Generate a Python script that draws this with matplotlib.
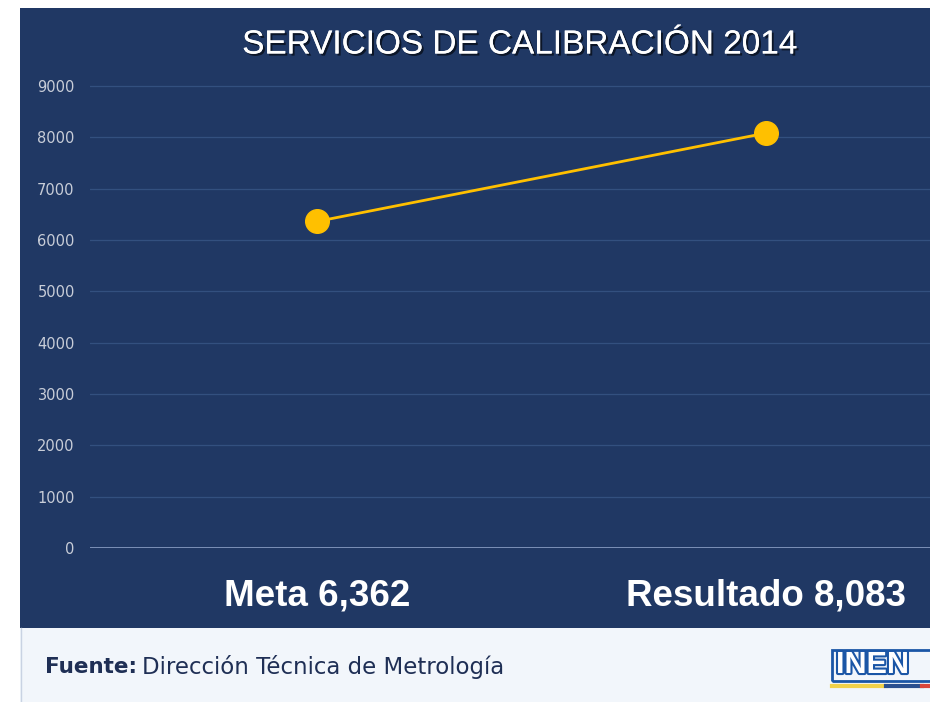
import matplotlib
matplotlib.use('Agg')
import matplotlib.pyplot as plt
import matplotlib.patheffects as pe
from matplotlib.patches import Rectangle
from matplotlib.lines import Line2D

# Datos
categorias = ['Meta 6,362', 'Resultado 8,083']
valores = [6362, 8083]
yticks = [0, 1000, 2000, 3000, 4000, 5000, 6000, 7000, 8000, 9000]

azul = '#203864'
amarillo = '#FFC000'

fig = plt.figure(figsize=(9.3, 7.02), dpi=100)
W, H = 930, 702

def fx(px):
    return px / W

def fy(py):
    return 1 - py / H

# Fondos
fig.patches.append(Rectangle((fx(20), fy(628)), fx(910), 620 / H, transform=fig.transFigure,
                             facecolor=azul, edgecolor='none', zorder=-10))
fig.patches.append(Rectangle((fx(20), 0), fx(910), 74 / H, transform=fig.transFigure,
                             facecolor='#f2f6fb', edgecolor='none', zorder=-10))
fig.lines.append(Line2D([fx(20.5), fx(20.5)], [0, fy(628)], transform=fig.transFigure,
                        color='#c9d3e3', lw=1, zorder=-9))

# Ejes: 0 en y=548px, 1000 cada 51.33px
ymax = 9400
alto = ymax / 1000 * 51.33
ax = fig.add_axes([fx(90), fy(548), fx(840), alto / H])
ax.set_facecolor('none')
ax.set_zorder(5)
ax.plot(range(len(valores)), valores, color=amarillo, lw=2, marker='o',
        markersize=17, markerfacecolor=amarillo, markeredgecolor=amarillo, zorder=3)

ax.set_ylim(0, ymax)
ax.set_xlim(-227 / 449, 613 / 449)
ax.set_yticks(yticks)
ax.set_yticklabels([str(v) for v in yticks], color='#c8cdd8', fontsize=10.5)
ax.tick_params(axis='y', length=0, pad=11)
ax.set_xticks([])
for s in ax.spines.values():
    s.set_visible(False)
for v in yticks[1:]:
    ax.axhline(v, color='#33507f', lw=0.9, zorder=1)
ax.axhline(0, color='#8c9fc5', lw=1.2, zorder=1)

for i, c in enumerate(categorias):
    ax.annotate(c, xy=(i, 0), xycoords='data', xytext=(0, -48 * 0.72),
                textcoords='offset points', ha='center', va='center',
                fontsize=26.5, fontweight='bold', color='white',
                family=['Liberation Sans', 'DejaVu Sans'], annotation_clip=False)

# Titulo
fig.text(fx(520), fy(45), 'SERVICIOS DE CALIBRACIÓN 2014', ha='center', va='center',
         fontsize=24, color='white', family='Liberation Sans',
         path_effects=[pe.withSimplePatchShadow(offset=(1.5, -1.5), shadow_rgbFace='black', alpha=0.6),
                       pe.Normal()])

# Fuente
t1 = fig.text(fx(45), fy(667), 'Fuente:', ha='left', va='center', fontsize=15.5,
              fontweight='bold', color='#1f2f55')
fig.canvas.draw()
bb = t1.get_window_extent()
fig.text((bb.x1 + 5) / W, fy(667), 'Dirección Técnica de Metrología', ha='left', va='center',
         fontsize=16.5, color='#1f2f55')

# Logo INEN (recortado)
fig.text(fx(836), fy(665), 'INEN', ha='left', va='center', fontsize=22, fontweight='bold',
         color='white', family='Liberation Sans',
         path_effects=[pe.withStroke(linewidth=3, foreground='#1b56a6')])
fig.patches.append(Rectangle((fx(832), fy(681)), fx(120), 31 / H, transform=fig.transFigure,
                             facecolor='none', edgecolor='#1b56a6', lw=2))
fig.lines.append(Line2D([fx(832), fx(886)], [fy(686), fy(686)], transform=fig.transFigure,
                        color='#f2d14a', lw=3))
fig.lines.append(Line2D([fx(886), fx(922)], [fy(686), fy(686)], transform=fig.transFigure,
                        color='#2a4f8f', lw=3))
fig.lines.append(Line2D([fx(922), fx(935)], [fy(686), fy(686)], transform=fig.transFigure,
                        color='#d9453a', lw=3))

fig.savefig('out.png', dpi=100)
